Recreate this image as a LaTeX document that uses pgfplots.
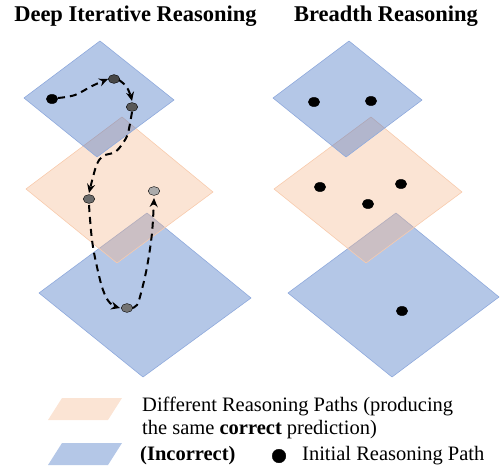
\documentclass[border=0pt]{standalone}
\usepackage{pgfplots}
\pgfplotsset{compat=1.18}
\usepackage{fontspec}
\setmainfont{Liberation Serif}
\usetikzlibrary{arrows.meta}
\definecolor{bbase}{HTML}{4472C4}
\definecolor{bedge}{HTML}{8FAADC}
\definecolor{obase}{HTML}{F4B183}
\definecolor{oedge}{HTML}{F8CBAD}
\begin{document}
\begin{tikzpicture}
\useasboundingbox (0,0) rectangle (501pt,468pt);
\begin{axis}[
  scale only axis, width=501pt, height=468pt,
  xmin=0, xmax=501, ymin=0, ymax=468, y dir=reverse,
  axis lines=none, ticks=none, clip=false,
  every axis plot/.append style={line join=round},
]
% ---------- left column planes ----------
\addplot[fill=bbase, fill opacity=0.4, draw=bedge, line width=0.6pt] coordinates {(147,213)(251,298)(143,377)(39,293)(147,213)};
\addplot[fill=obase, fill opacity=0.35, draw=oedge, line width=0.6pt] coordinates {(122,117)(213,192)(117,263)(26,189)(122,117)};
\addplot[fill=bbase, fill opacity=0.4, draw=bedge, line width=0.6pt] coordinates {(100,41)(174,100)(97,157)(24,98)(100,41)};
% ---------- right column planes ----------
\addplot[fill=bbase, fill opacity=0.4, draw=bedge, line width=0.6pt] coordinates {(396,213)(499,297)(392,377)(288,293)(396,213)};
\addplot[fill=obase, fill opacity=0.35, draw=oedge, line width=0.6pt] coordinates {(371,117)(462,192)(366,263)(274,189)(371,117)};
\addplot[fill=bbase, fill opacity=0.4, draw=bedge, line width=0.6pt] coordinates {(349,41)(422,100)(346,157)(273,98)(349,41)};
% ---------- dashed reasoning path ----------
\pgfplotsset{pathstyle/.style={black, line width=2pt, dash pattern=on 7pt off 5pt, smooth, tension=0.6, -{Stealth[length=9pt,width=8pt,inset=3pt]}}}
\addplot[pathstyle] coordinates {(58,98)(75,95)(92,86)(108,79)};
\addplot[pathstyle] coordinates {(119,80)(126,86)(130,94)(132,101)};
\addplot[pathstyle] coordinates {(132,112)(128,133)(123,143)(115,152)(103,156)(97,164)(93,177)(89,193)};
\addplot[pathstyle] coordinates {(89,205)(92,240)(97,267)(103,290)(110,303)(120,308)};
\addplot[pathstyle] coordinates {(132,308)(137,305)(141,293)(147,267)(152,233)(154,198)};
% ---------- dots left ----------
\addplot[only marks, mark=*, mark size=4.6pt, mark options={xscale=1.25, draw=black, fill=black}] coordinates {(52,99)};
\addplot[only marks, mark=*, mark size=4.4pt, mark options={xscale=1.3, draw=none, fill=black!72}] coordinates {(114,79)};
\addplot[only marks, mark=*, mark size=4.4pt, mark options={xscale=1.3, draw=none, fill=black!65}] coordinates {(132,107)};
\addplot[only marks, mark=*, mark size=4.4pt, mark options={xscale=1.3, draw=none, fill=black!58}] coordinates {(89,199)};
\addplot[only marks, mark=*, mark size=4.4pt, mark options={xscale=1.3, draw=none, fill=black!33}] coordinates {(154,191)};
\addplot[only marks, mark=*, mark size=4.4pt, mark options={xscale=1.3, draw=none, fill=black!55}] coordinates {(127,308)};
% ---------- dots right ----------
\addplot[only marks, mark=*, mark size=4.6pt, mark options={xscale=1.25, draw=black, fill=black}] coordinates {(314,102)(371,101)(320,187)(401,184)(368,204)(402,311)};
% ---------- legend swatches ----------
\addplot[fill=obase, fill opacity=0.35, draw=none] coordinates {(62,398)(122,398)(108,420)(48,420)(62,398)};
\addplot[fill=bbase, fill opacity=0.4, draw=none] coordinates {(62,443)(122,443)(108,465)(48,465)(62,443)};
\addplot[only marks, mark=*, mark size=6.8pt, mark options={draw=black, fill=black}] coordinates {(279,456)};
% ---------- text ----------
\node[anchor=base, font=\fontsize{22.5}{27}\selectfont\bfseries] at (axis cs:135.5,22) {Deep Iterative Reasoning};
\node[anchor=base, font=\fontsize{22.5}{27}\selectfont\bfseries] at (axis cs:386,22) {Breadth Reasoning};
\node[anchor=base west, inner sep=0pt, font=\fontsize{20.5}{24}\selectfont] at (axis cs:142,411) {Different Reasoning Paths (producing};
\node[anchor=base west, inner sep=0pt, font=\fontsize{20.5}{24}\selectfont] at (axis cs:142,434) {the same \textbf{correct} prediction)};
\node[anchor=base west, inner sep=0pt, font=\fontsize{20.5}{24}\selectfont\bfseries] at (axis cs:140,460) {(Incorrect)};
\node[anchor=base west, inner sep=0pt, font=\fontsize{20.5}{24}\selectfont] at (axis cs:302,460) {Initial Reasoning Path};
\end{axis}
\end{tikzpicture}
\end{document}
